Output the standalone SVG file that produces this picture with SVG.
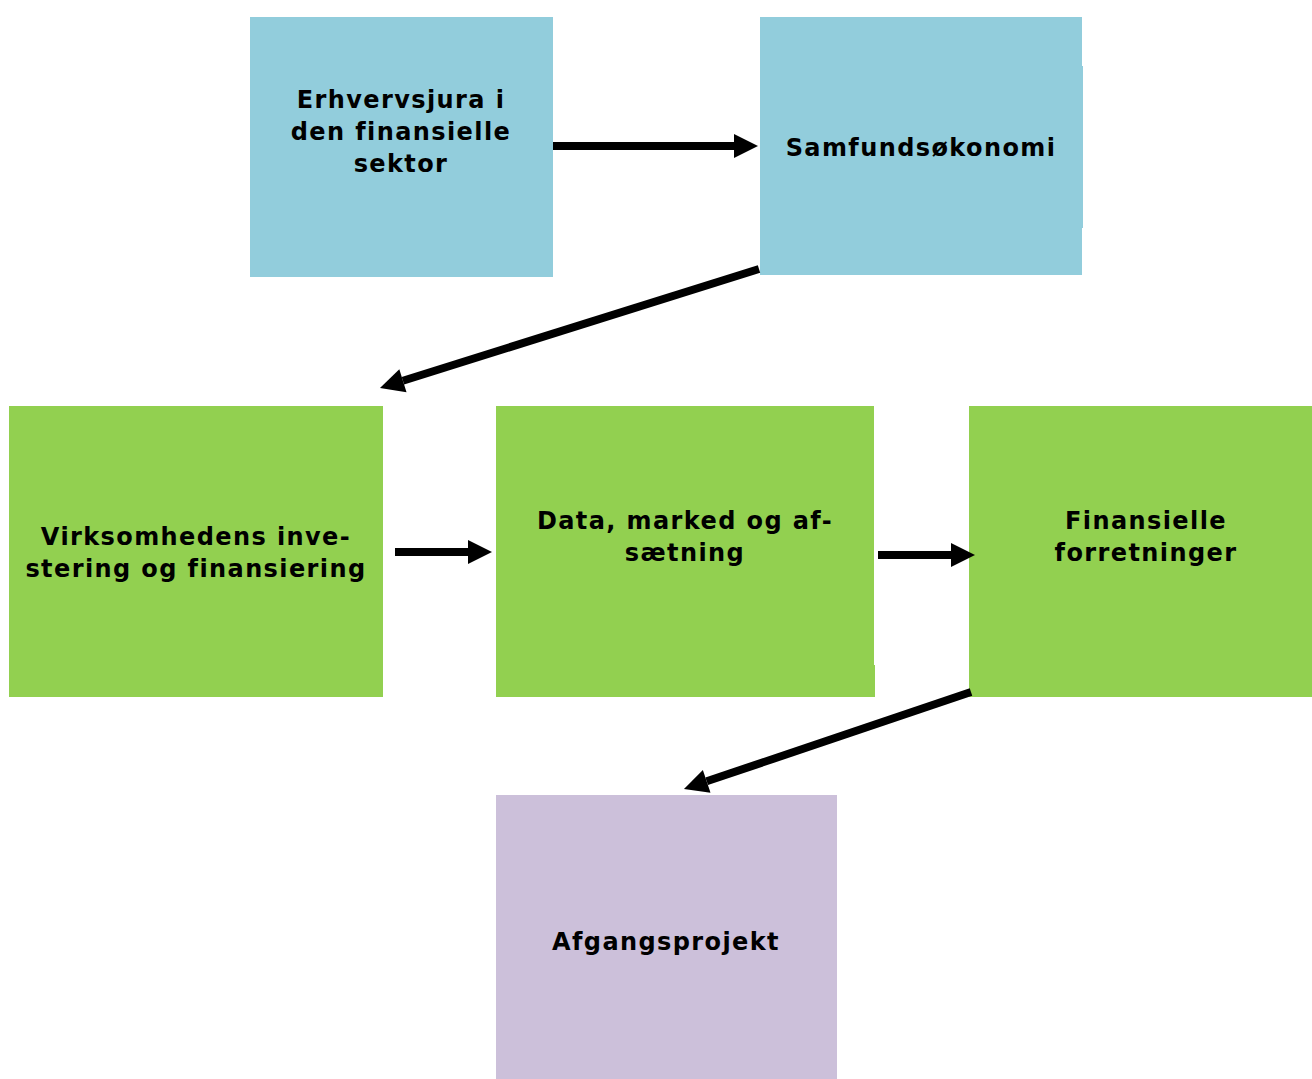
<svg xmlns="http://www.w3.org/2000/svg" width="1312" height="1079" viewBox="0 0 1312 1079">
<style>
.blue{fill:#92CDDC}
.green{fill:#92D050}
.purple{fill:#CCC0DA}
text{font-family:"DejaVu Sans",Verdana,sans-serif;font-weight:bold;font-size:24px;letter-spacing:1.4px;fill:#000;text-anchor:middle}
.conn line{stroke:#000;stroke-width:8;marker-end:url(#ah)}
</style>
<defs>
<marker id="ah" markerUnits="userSpaceOnUse" markerWidth="26" markerHeight="26" refX="0" refY="12" orient="auto" overflow="visible">
<path d="M0,0 L24,12 L0,24 Z" fill="#000"/>
</marker>
</defs>
<rect width="1312" height="1079" fill="#fff"/>
<g id="n1">
<rect class="blue" x="250" y="17" width="303" height="260"/>
<text x="401" y="108">Erhvervsjura i</text>
<text x="401" y="140">den finansielle</text>
<text x="401" y="172">sektor</text>
</g>
<g id="n2">
<rect class="blue" x="760" y="17" width="322" height="258"/>
<rect class="blue" x="1081" y="66" width="2" height="162"/>
<text x="921" y="156">Samfundsøkonomi</text>
</g>
<g id="n3">
<rect class="green" x="9" y="406" width="374" height="291"/>
<text x="196" y="545">Virksomhedens inve-</text>
<text x="196" y="577">stering og finansiering</text>
</g>
<g id="n4">
<rect class="green" x="496" y="406" width="378" height="291"/>
<rect class="green" x="873" y="665" width="2" height="32"/>
<text x="685" y="529">Data, marked og af-</text>
<text x="685" y="561">sætning</text>
</g>
<g id="n5">
<rect class="green" x="969" y="406" width="343" height="291"/>
<text x="1146" y="529">Finansielle</text>
<text x="1146" y="561">forretninger</text>
</g>
<g id="n6">
<rect class="purple" x="496" y="795" width="341" height="284"/>
<text x="666" y="950">Afgangsprojekt</text>
</g>
<g id="connectors" class="conn">
<line x1="553" y1="146" x2="734" y2="146"/>
<line x1="759" y1="269" x2="402.9" y2="380.8"/>
<line x1="395" y1="552" x2="468" y2="552"/>
<line x1="878" y1="555" x2="951" y2="555"/>
<line x1="971" y1="692" x2="706.7" y2="781.3"/>
</g>
</svg>
